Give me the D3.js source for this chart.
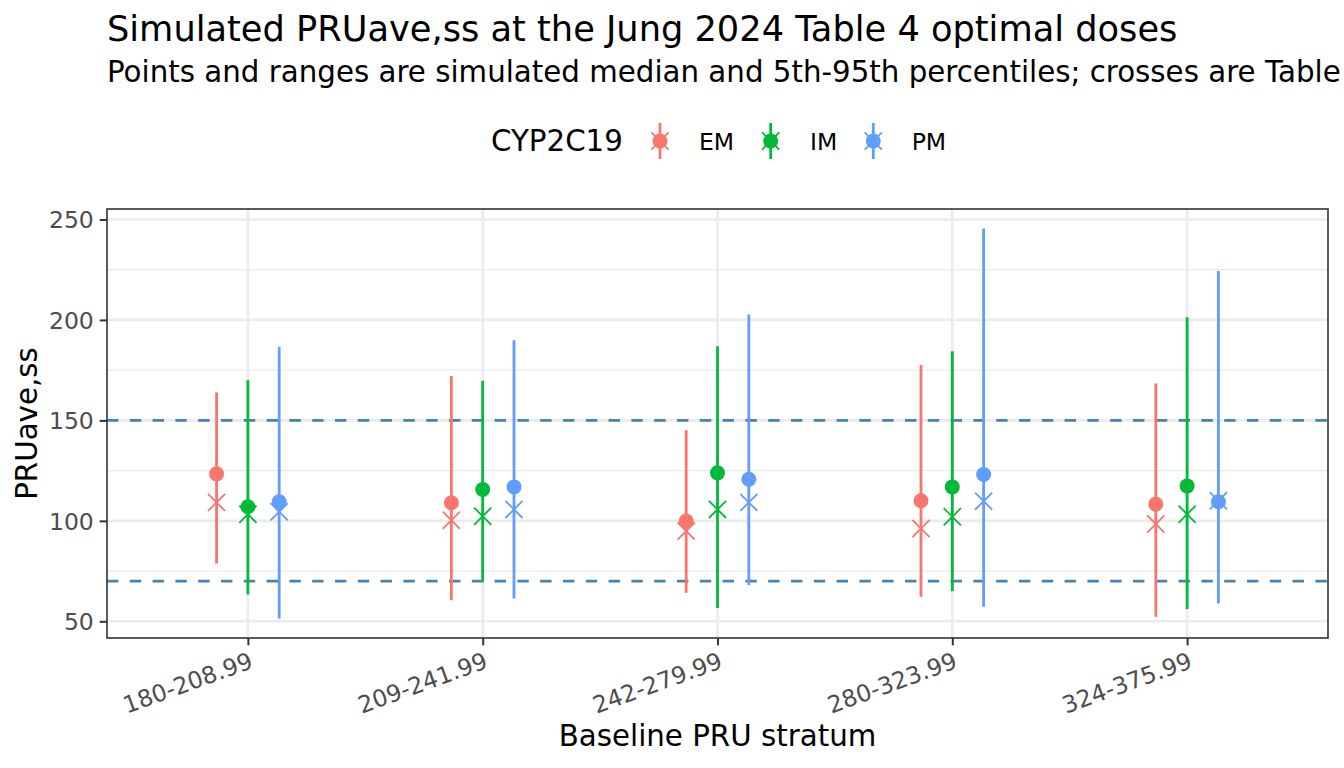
<!DOCTYPE html>
<html><head><meta charset="utf-8">
<script src="https://cdn.jsdelivr.net/npm/d3@7"></script>
<style>body{margin:0;background:#fff} text{font-family:"DejaVu Sans",sans-serif}</style>
</head><body><svg id="c" width="1344" height="768"></svg>
<script>
// ---- data ----
const strata = ["180-208.99","209-241.99","242-279.99","280-323.99","324-375.99"];
const genotypes = ["EM","IM","PM"];
const colors = ["#F8766D","#00BA38","#619CFF"];
const medianEM = [123.4,109.0,99.9,110.0,108.3];
const medianIM = [107.0,115.6,123.9,116.9,117.4];
const medianPM = [109.5,116.9,120.7,123.1,109.5];
const p5EM = [78.8,60.5,64.2,62.2,52.2];
const p5IM = [63.4,69.7,56.6,65.0,56.1];
const p5PM = [51.4,61.4,68.0,57.2,58.9];
const p95EM = [163.9,172.1,145.1,177.6,168.4];
const p95IM = [170.0,169.7,186.9,184.4,201.3];
const p95PM = [186.6,189.9,202.7,245.5,224.4];
const tableEM = [109.2,100.3,94.9,96.2,98.4];
const tableIM = [103.3,102.3,105.7,102.0,103.3];
const tablePM = [104.5,105.7,109.2,109.8,110.0];
const yTicks = [50,100,150,200,250];
const yMinor = [75,125,175,225];
const refLines = [70,150];

const meds = [medianEM, medianIM, medianPM];
const p5s = [p5EM, p5IM, p5PM];
const p95s = [p95EM, p95IM, p95PM];
const tabs = [tableEM, tableIM, tablePM];

// ---- layout ----
const W = 1344, H = 768;
const P = {left:107, right:1328, top:209, bottom:638};
const svg = d3.select("#c");
svg.append("rect").attr("width", W).attr("height", H).attr("fill", "#fff");

const allVals = [].concat(...p5s, ...p95s, ...meds, ...tabs);
const lo = d3.min(allVals), hi = d3.max(allVals), pad = (hi - lo) * 0.05;
const y = d3.scaleLinear().domain([lo - pad, hi + pad]).range([P.bottom, P.top]);
const x = d3.scalePoint().domain(strata).range([P.left, P.right]).padding(0.6);
const dw = x.step() * 0.4 / 3;
const dodge = d3.scalePoint().domain(genotypes).range([-dw, dw]);
const color = d3.scaleOrdinal().domain(genotypes).range(colors);

const rows = [];
strata.forEach((s, i) => genotypes.forEach((g, k) => rows.push({
  s, g, lo: p5s[k][i], hi: p95s[k][i], med: meds[k][i], tab: tabs[k][i]
})));

svg.append("clipPath").attr("id","pc").append("rect")
  .attr("x", P.left).attr("y", P.top).attr("width", P.right - P.left).attr("height", P.bottom - P.top);
const panel = svg.append("g").attr("clip-path","url(#pc)");

// grid
panel.selectAll(".ymin").data(yMinor).join("line")
  .attr("x1", P.left).attr("x2", P.right).attr("y1", d => y(d)).attr("y2", d => y(d))
  .attr("stroke", "#EBEBEB").attr("stroke-width", 1.4);
panel.selectAll(".ymaj").data(yTicks).join("line")
  .attr("x1", P.left).attr("x2", P.right).attr("y1", d => y(d)).attr("y2", d => y(d))
  .attr("stroke", "#EBEBEB").attr("stroke-width", 2.6);
panel.selectAll(".xmaj").data(strata).join("line")
  .attr("y1", P.top).attr("y2", P.bottom).attr("x1", d => x(d)).attr("x2", d => x(d))
  .attr("stroke", "#EBEBEB").attr("stroke-width", 2.6);

// reference lines
panel.selectAll(".ref").data(refLines).join("line")
  .attr("x1", P.left).attr("x2", P.right).attr("y1", d => y(d)).attr("y2", d => y(d))
  .attr("stroke", "#4682B4").attr("stroke-width", 2.6).attr("stroke-dasharray", "11.4,11.4");

const cx = d => x(d.s) + dodge(d.g);
const crossPath = h => `M${-h},${-h}L${h},${h}M${-h},${h}L${h},${-h}`;

// ranges
panel.selectAll(".rng").data(rows).join("line")
  .attr("x1", cx).attr("x2", cx).attr("y1", d => y(d.lo)).attr("y2", d => y(d.hi))
  .attr("stroke", d => color(d.g)).attr("stroke-width", 2.8);
// points
panel.selectAll(".pt").data(rows).join("circle")
  .attr("cx", cx).attr("cy", d => y(d.med)).attr("r", 7.5).attr("fill", d => color(d.g));
// crosses
panel.selectAll(".cr").data(rows).join("path")
  .attr("transform", d => `translate(${cx(d)},${y(d.tab)})`).attr("d", crossPath(8.6))
  .attr("fill", "none").attr("stroke", d => color(d.g)).attr("stroke-width", 1.8);

// border
svg.append("rect").attr("x", P.left).attr("y", P.top).attr("width", P.right - P.left).attr("height", P.bottom - P.top)
  .attr("fill", "none").attr("stroke", "#333333").attr("stroke-width", 1.6);

// axes
const yAxis = svg.append("g").attr("transform", `translate(${P.left},0)`)
  .call(d3.axisLeft(y).tickValues(yTicks).tickSize(7.3).tickPadding(5.9));
yAxis.select(".domain").remove();
yAxis.selectAll(".tick line").attr("stroke", "#333333").attr("stroke-width", 2);
yAxis.selectAll(".tick text").attr("fill", "#4D4D4D").attr("font-size", "23.5px")
  .attr("font-family", "DejaVu Sans").attr("dy", "0.36em");

const xAxis = svg.append("g").attr("transform", `translate(0,${P.bottom})`)
  .call(d3.axisBottom(x).tickSize(7.3).tickPadding(5.9));
xAxis.select(".domain").remove();
xAxis.selectAll(".tick line").attr("stroke", "#333333").attr("stroke-width", 2);
xAxis.selectAll(".tick text").attr("fill", "#4D4D4D").attr("font-size", "23.5px")
  .attr("font-family", "DejaVu Sans")
  .attr("text-anchor", "end").attr("x", 0).attr("y", 13.2).attr("dy", "0.73em")
  .attr("transform", "rotate(-20,0,13.2)");

// titles
svg.append("text").attr("x", P.left).attr("y", 41).attr("font-size", "35.2px")
  .text("Simulated PRUave,ss at the Jung 2024 Table 4 optimal doses");
svg.append("text").attr("x", P.left).attr("y", 82).attr("font-size", "29.3px")
  .text("Points and ranges are simulated median and 5th-95th percentiles; crosses are Table");
svg.append("text").attr("x", (P.left + P.right) / 2).attr("y", 746).attr("font-size", "29.3px")
  .attr("text-anchor", "middle").text("Baseline PRU stratum");
svg.append("text").attr("transform", `translate(37,${(P.top + P.bottom) / 2}) rotate(-90)`)
  .attr("font-size", "29.3px").attr("text-anchor", "middle").text("PRUave,ss");

// legend
const leg = svg.append("g");
leg.append("text").attr("x", 491).attr("y", 151).attr("font-size", "29.3px").text("CYP2C19");
const keyX = [660, 770.7, 873.3];
const labX = [699, 810, 911.7];
genotypes.forEach((g, k) => {
  const kg = leg.append("g").attr("transform", `translate(${keyX[k]},141)`);
  kg.append("line").attr("y1", -18).attr("y2", 18).attr("stroke", color(g)).attr("stroke-width", 2.8);
  kg.append("circle").attr("r", 7.5).attr("fill", color(g));
  kg.append("path").attr("d", crossPath(8.6)).attr("fill", "none").attr("stroke", color(g)).attr("stroke-width", 1.8);
  leg.append("text").attr("x", labX[k]).attr("y", 149.5).attr("font-size", "23.5px").text(g);
});
</script></body></html>
